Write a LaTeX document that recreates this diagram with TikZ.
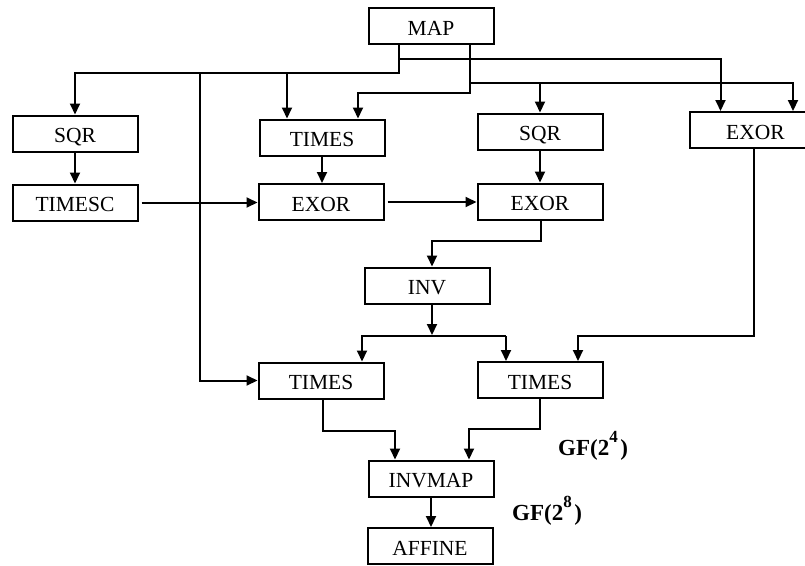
\documentclass[tikz,border=0pt]{standalone}
\usepackage{fontspec}
\setmainfont{Liberation Serif}
\usetikzlibrary{arrows.meta}
\begin{document}
\begin{tikzpicture}[x=1pt,y=-1pt,
  block/.style={draw, line width=2pt, minimum width=125pt, minimum height=36pt,
    inner sep=0pt, text height=18pt, text depth=0pt,
    font=\rmfamily\fontsize{21.5}{21.5}\selectfont},
  wire/.style={line width=2pt},
  arr/.style={wire, -{Triangle[length=11pt,width=10pt]}},
  gflabel/.style={font=\rmfamily\fontsize{23}{23}\selectfont\bfseries, inner sep=0pt, anchor=base west}]
\useasboundingbox (0,0) rectangle (805,565);
\clip (0,0) rectangle (805,565);

% blocks
\node[block] (MAP)    at (431,26)    {MAP};
\node[block] (SQRa)   at (75,133.5)  {SQR};
\node[block] (TIMESC) at (75,202.5)  {TIMESC};
\node[block] (TIMESa) at (322,137.5) {TIMES};
\node[block] (EXORa)  at (321,202)   {EXOR};
\node[block] (SQRb)   at (540,131.5) {SQR};
\node[block] (EXORb)  at (540,201.5) {EXOR};
\node[block, minimum width=131pt] (EXORc) at (755.5,130) {EXOR};
\node[block] (INV)    at (427,285.5) {INV};
\node[block] (TIMESb) at (321,380.5) {TIMES};
\node[block] (TIMESc) at (540,380)   {TIMES};
\node[block] (INVMAP) at (431,478.5) {INVMAP};
\node[block] (AFFINE) at (430,546)   {AFFINE};

% field labels
\node[gflabel] (gf4) at (558,455) {GF(2\raisebox{13pt}{\fontsize{17}{17}\selectfont 4}\hspace{2.5pt})};
\node[gflabel] (gf8) at (512,520) {GF(2\raisebox{13pt}{\fontsize{17}{17}\selectfont 8}\hspace{2.5pt})};

% bus points and entry points
\coordinate (busA) at (399,73);
\coordinate (busB) at (399,59);
\coordinate (busC) at (470,93);
\coordinate (busD) at (470,83);
\coordinate (feed) at (200,73);
\coordinate (tA) at ([xshift=-35pt]TIMESa.north);
\coordinate (tB) at ([xshift=36pt]TIMESa.north);
\coordinate (eA) at ([xshift=-35pt]EXORc.north);
\coordinate (eB) at ([xshift=37.5pt]EXORc.north);
\coordinate (eC) at ([xshift=-1.5pt]EXORc.south);
\coordinate (inA) at ([xshift=5pt]INV.north);
\coordinate (inB) at ([xshift=5pt]INV.south);
\coordinate (kA) at (541,241);
\coordinate (sp) at (432,336);
\coordinate (tbA) at ([xshift=41pt]TIMESb.north);
\coordinate (tcA) at ([xshift=-34pt]TIMESc.north);
\coordinate (tcB) at ([xshift=38pt]TIMESc.north);
\coordinate (tbS) at ([xshift=2pt]TIMESb.south);
\coordinate (jA) at (323,431);
\coordinate (jB) at (540,429);
\coordinate (imA) at ([xshift=-36pt]INVMAP.north);
\coordinate (imB) at ([xshift=38pt]INVMAP.north);

% distribution from MAP
\draw[arr] (MAP.south -| busA) -- (busA) -- (busA -| SQRa.north) -- (SQRa.north);
\draw[arr] (busA -| tA) -- (tA);
\draw[arr] (feed) -- (feed |- TIMESb.west) -- (TIMESb.west);
\draw[arr] (busB) -- (busB -| eA) -- (eA);
\draw[arr] (MAP.south -| busC) -- (busC) -- (busC -| tB) -- (tB);
\draw[arr] (busD) -- (busD -| eB) -- (eB);
\draw[arr] (busD -| SQRb.north) -- (SQRb.north);

% upper chain
\draw[arr] (SQRa.south) -- (SQRa.south |- TIMESC.north);
\draw[arr] (TIMESa.south) -- (TIMESa.south |- EXORa.north);
\draw[arr] (SQRb.south) -- (SQRb.south |- EXORb.north);
\draw[arr, shorten <=3pt] (TIMESC.east) -- (TIMESC.east -| EXORa.west);
\draw[arr, shorten <=3pt] (EXORa.east) -- (EXORa.east -| EXORb.west);

% inversion
\draw[arr] (EXORb.south -| kA) -- (kA) -- (kA -| inA) -- (inA);
\draw[arr] (inB) -- ([yshift=1pt]sp);
\draw[arr] (sp -| tcA) -- (sp -| tbA) -- (tbA);
\draw[arr] (sp -| tcA) -- (tcA);
\draw[arr] (eC) -- (eC |- sp) -- (sp -| tcB) -- (tcB);

% recombination
\draw[arr] (tbS) -- (jA) -- (jA -| imA) -- (imA);
\draw[arr] (TIMESc.south) -- (jB) -- (jB -| imB) -- (imB);
\draw[arr] (INVMAP.south) -- (INVMAP.south |- AFFINE.north);
\end{tikzpicture}
\end{document}
